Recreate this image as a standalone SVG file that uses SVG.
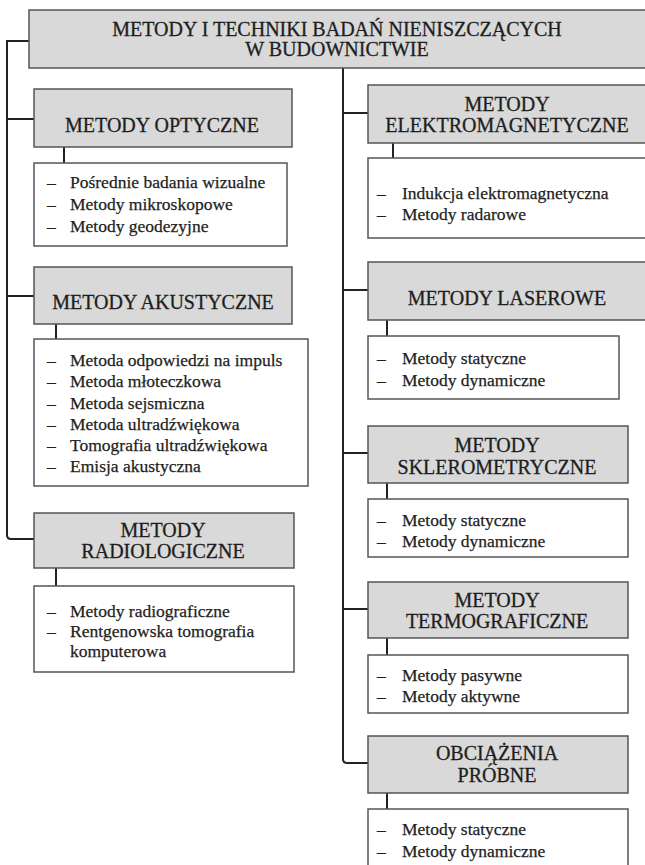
<svg xmlns="http://www.w3.org/2000/svg" width="645" height="865" viewBox="0 0 645 865">
<style>
.hdr{fill:#d9d9d9;stroke:#555;stroke-width:1.5}
.lst{fill:#fff;stroke:#555;stroke-width:1.5}
.ht{font-size:20px;fill:#1e1e1e;stroke:#1e1e1e;stroke-width:0.3;text-anchor:middle}
.it{font-size:17.5px;fill:#1e1e1e;stroke:#1e1e1e;stroke-width:0.25}
.conn{stroke:#222;stroke-width:2;fill:none}
</style>
<rect width="645" height="865" fill="#fff"/>
<g id="connectors">
<path class="conn" d="M29,41 H7 V535 Q7,539 11,539 H34"/>
<path class="conn" d="M7,119 H34 M7,296 H34"/>
<path class="conn" d="M343,68 V759 Q343,763 347,763 H368"/>
<path class="conn" d="M343,113 H368 M343,290 H368 M343,453 H368 M343,609 H368"/>
<path class="conn" d="M64,147 V163 M56,324 V339 M56,568 V586 M393,143 V158 M387,320 V336 M387,483 V499 M387,638 V655 M387,793 V809"/>
</g>
<g font-family="'Liberation Serif', 'DejaVu Serif', Tinos, 'Times New Roman', serif">
<g id="root">
<rect class="hdr" x="29" y="10" width="620" height="58"/>
<text class="ht" x="337" y="36">METODY I TECHNIKI BADAŃ NIENISZCZĄCYCH</text>
<text class="ht" x="337" y="56">W BUDOWNICTWIE</text>
</g>
<g id="optyczne">
<rect class="hdr" x="34" y="89" width="258" height="58"/>
<text class="ht" x="162" y="132">METODY OPTYCZNE</text>
</g>
<g id="optyczne-list">
<rect class="lst" x="34" y="163" width="253" height="83"/>
<text class="it" x="47" y="188">–</text><text class="it" x="70" y="188">Pośrednie badania wizualne</text>
<text class="it" x="47" y="210">–</text><text class="it" x="70" y="210">Metody mikroskopowe</text>
<text class="it" x="47" y="232">–</text><text class="it" x="70" y="232">Metody geodezyjne</text>
</g>
<g id="akustyczne">
<rect class="hdr" x="34" y="267" width="258" height="57"/>
<text class="ht" x="163" y="309">METODY AKUSTYCZNE</text>
</g>
<g id="akustyczne-list">
<rect class="lst" x="34" y="339" width="274" height="147"/>
<text class="it" x="47" y="366">–</text><text class="it" x="70" y="366">Metoda odpowiedzi  na impuls</text>
<text class="it" x="47" y="387">–</text><text class="it" x="70" y="387">Metoda młoteczkowa</text>
<text class="it" x="47" y="409">–</text><text class="it" x="70" y="409">Metoda sejsmiczna</text>
<text class="it" x="47" y="430">–</text><text class="it" x="70" y="430">Metoda ultradźwiękowa</text>
<text class="it" x="47" y="451">–</text><text class="it" x="70" y="451">Tomografia ultradźwiękowa</text>
<text class="it" x="47" y="472">–</text><text class="it" x="70" y="472">Emisja akustyczna</text>
</g>
<g id="radiologiczne">
<rect class="hdr" x="34" y="513" width="260" height="55"/>
<text class="ht" x="163" y="537">METODY</text>
<text class="ht" x="163" y="558">RADIOLOGICZNE</text>
</g>
<g id="radiologiczne-list">
<rect class="lst" x="34" y="586" width="260" height="86"/>
<text class="it" x="47" y="617">–</text><text class="it" x="70" y="617">Metody radiograficzne</text>
<text class="it" x="47" y="637">–</text><text class="it" x="70" y="637">Rentgenowska tomografia</text>
<text class="it" x="70" y="657">komputerowa</text>
</g>
<g id="elektromagnetyczne">
<rect class="hdr" x="368" y="85" width="280" height="58"/>
<text class="ht" x="507" y="111">METODY</text>
<text class="ht" x="507" y="132">ELEKTROMAGNETYCZNE</text>
</g>
<g id="elektromagnetyczne-list">
<rect class="lst" x="368" y="158" width="280" height="80"/>
<text class="it" x="377" y="199">–</text><text class="it" x="402" y="199">Indukcja elektromagnetyczna</text>
<text class="it" x="377" y="220">–</text><text class="it" x="402" y="220">Metody radarowe</text>
</g>
<g id="laserowe">
<rect class="hdr" x="368" y="262" width="280" height="58"/>
<text class="ht" x="507" y="305">METODY LASEROWE</text>
</g>
<g id="laserowe-list">
<rect class="lst" x="368" y="336" width="251" height="63"/>
<text class="it" x="377" y="364">–</text><text class="it" x="402" y="364">Metody statyczne</text>
<text class="it" x="377" y="386">–</text><text class="it" x="402" y="386">Metody dynamiczne</text>
</g>
<g id="sklerometryczne">
<rect class="hdr" x="368" y="426" width="260" height="57"/>
<text class="ht" x="497" y="452">METODY</text>
<text class="ht" x="497" y="474">SKLEROMETRYCZNE</text>
</g>
<g id="sklerometryczne-list">
<rect class="lst" x="368" y="499" width="260" height="58"/>
<text class="it" x="377" y="526">–</text><text class="it" x="402" y="526">Metody statyczne</text>
<text class="it" x="377" y="547">–</text><text class="it" x="402" y="547">Metody dynamiczne</text>
</g>
<g id="termograficzne">
<rect class="hdr" x="368" y="582" width="260" height="56"/>
<text class="ht" x="497" y="607">METODY</text>
<text class="ht" x="497" y="628">TERMOGRAFICZNE</text>
</g>
<g id="termograficzne-list">
<rect class="lst" x="368" y="655" width="260" height="58"/>
<text class="it" x="377" y="681">–</text><text class="it" x="402" y="681">Metody pasywne</text>
<text class="it" x="377" y="702">–</text><text class="it" x="402" y="702">Metody aktywne</text>
</g>
<g id="obciazenia">
<rect class="hdr" x="368" y="736" width="260" height="57"/>
<text class="ht" x="497" y="760">OBCIĄŻENIA</text>
<text class="ht" x="497" y="782">PRÓBNE</text>
</g>
<g id="obciazenia-list">
<rect class="lst" x="368" y="809" width="260" height="62"/>
<text class="it" x="377" y="835">–</text><text class="it" x="402" y="835">Metody statyczne</text>
<text class="it" x="377" y="857">–</text><text class="it" x="402" y="857">Metody dynamiczne</text>
</g>
</g>
</svg>
